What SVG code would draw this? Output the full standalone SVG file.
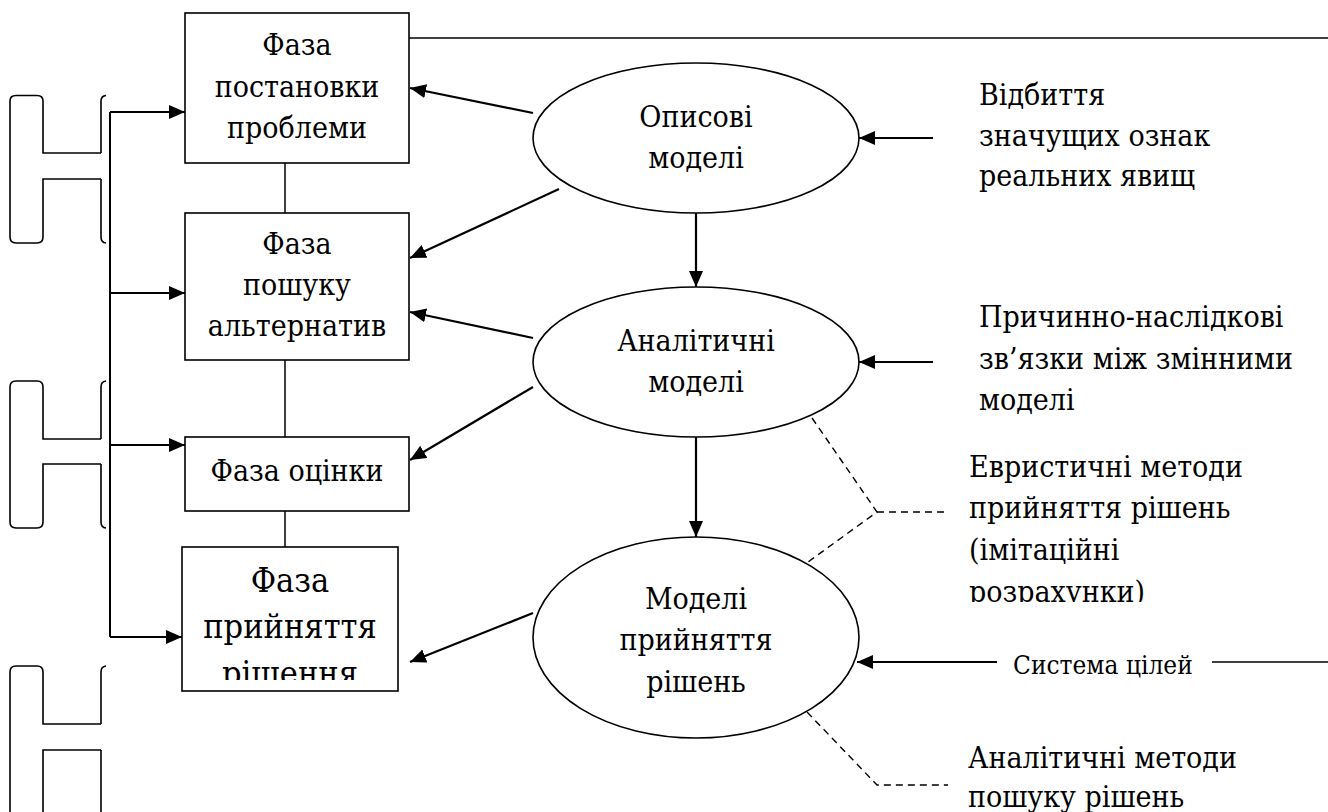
<svg xmlns="http://www.w3.org/2000/svg" width="1328" height="812" viewBox="0 0 1328 812">
<style>
.bx{fill:#fff;stroke:#000;stroke-width:1.6}
.el{fill:#fff;stroke:#000;stroke-width:1.6}
text{font-family:"DejaVu Serif Condensed","DejaVu Serif",serif;font-stretch:condensed;font-size:30px;fill:#000}
.tc{text-anchor:middle}
.big{font-size:34px}
.sm{font-size:26px}
.ar{stroke:#000;stroke-width:2.2;fill:none;marker-end:url(#ah)}
.ln{stroke:#000;stroke-width:1.5;fill:none}
.ds{stroke:#000;stroke-width:1.4;fill:none;stroke-dasharray:7 5}
.br{stroke:#000;stroke-width:1.6;fill:none}
</style>
<defs>
<marker id="ah" markerUnits="userSpaceOnUse" markerWidth="20" markerHeight="16" refX="16" refY="7" orient="auto">
<path d="M0,0 L16,7 L0,14 Z" fill="#000"/>
</marker>
<clipPath id="c4"><rect x="182" y="547" width="216" height="133"/></clipPath>
<clipPath id="ce"><rect x="940" y="440" width="388" height="162"/></clipPath>
</defs>
<rect width="1328" height="812" fill="#fff"/>

<g id="connectors">
<line class="ln" x1="409" y1="38" x2="1328" y2="38"/>
<line class="ln" x1="285" y1="163" x2="285" y2="213"/>
<line class="ln" x1="285" y1="360" x2="285" y2="437"/>
<line class="ln" x1="285" y1="511" x2="285" y2="547"/>
<line class="ln" x1="110" y1="112" x2="110" y2="637" style="stroke-width:2"/>
<line class="ar" x1="110" y1="112" x2="185" y2="112"/>
<line class="ar" x1="110" y1="293" x2="185" y2="293"/>
<line class="ar" x1="110" y1="445" x2="185" y2="445"/>
<line class="ar" x1="110" y1="637" x2="182" y2="637"/>
<line class="ar" x1="533" y1="113" x2="410" y2="88"/>
<line class="ar" x1="559" y1="189" x2="410" y2="258"/>
<line class="ar" x1="533" y1="338" x2="410" y2="312"/>
<line class="ar" x1="533" y1="387" x2="410" y2="460"/>
<line class="ar" x1="533" y1="613" x2="410" y2="662"/>
<line class="ar" x1="696" y1="213" x2="696" y2="287"/>
<line class="ar" x1="696" y1="437" x2="696" y2="537"/>
<line class="ar" x1="933" y1="138" x2="859" y2="138"/>
<line class="ar" x1="933" y1="362" x2="859" y2="362"/>
<line class="ar" x1="997" y1="662" x2="857" y2="662"/>
<line class="ln" x1="1212" y1="662" x2="1328" y2="662"/>
<polyline class="ds" points="812,418 877,512 808,562"/>
<line class="ds" x1="877" y1="512" x2="948" y2="512"/>
<polyline class="ds" points="807,712 877,785 948,785"/>
</g>

<g id="brackets">
<path class="br" d="M101,153 H43 V101 Q43,95.5 37,95.5 H16 Q10,95.5 10,101 V237 Q10,243 16,243 H37 Q43,243 43,237 V179 H101"/>
<path class="br" d="M106,95.5 Q101,96 101,101 V153 M101,179 V237 Q101,242.5 106,243"/>
<path class="br" d="M101,439 H43 V387 Q43,381 37,381 H16 Q10,381 10,387 V522 Q10,528 16,528 H37 Q43,528 43,522 V464 H101"/>
<path class="br" d="M106,381 Q101,381.5 101,387 V439 M101,464 V522 Q101,527.5 106,528"/>
<path class="br" d="M101,724 H43 V672 Q43,666 37,666 H16 Q10,666 10,672 V830 M43,830 V750 H101"/>
<path class="br" d="M106,666 Q101,666.5 101,672 V724 M101,750 V830"/>
</g>

<g id="box1">
<rect class="bx" x="185" y="13" width="224" height="150"/>
<text class="tc" x="297" y="55">Фаза</text>
<text class="tc" x="297" y="97">постановки</text>
<text class="tc" x="297" y="138">проблеми</text>
</g>
<g id="box2">
<rect class="bx" x="185" y="213" width="224" height="147"/>
<text class="tc" x="297" y="254">Фаза</text>
<text class="tc" x="297" y="295">пошуку</text>
<text class="tc" x="297" y="336">альтернатив</text>
</g>
<g id="box3">
<rect class="bx" x="185" y="437" width="224" height="74"/>
<text class="tc" x="297" y="481">Фаза оцінки</text>
</g>
<g id="box4">
<rect class="bx" x="182" y="547" width="216" height="144"/>
<g clip-path="url(#c4)">
<text class="tc big" x="290" y="592">Фаза</text>
<text class="tc big" x="290" y="638">прийняття</text>
<text class="tc big" x="290" y="685">рішення</text>
</g>
</g>

<g id="ellipse1">
<ellipse class="el" cx="696" cy="138" rx="163" ry="75"/>
<text class="tc" x="696" y="127">Описові</text>
<text class="tc" x="696" y="168">моделі</text>
</g>
<g id="ellipse2">
<ellipse class="el" cx="696" cy="362" rx="163" ry="75"/>
<text class="tc" x="696" y="351">Аналітичні</text>
<text class="tc" x="696" y="392">моделі</text>
</g>
<g id="ellipse3">
<ellipse class="el" cx="696" cy="637.5" rx="163" ry="100.5"/>
<text class="tc" x="696" y="609">Моделі</text>
<text class="tc" x="696" y="650">прийняття</text>
<text class="tc" x="696" y="692">рішень</text>
</g>

<g id="label-vidbyttia">
<text x="979" y="105">Відбиття</text>
<text x="979" y="146">значущих ознак</text>
<text x="979" y="186">реальних явищ</text>
</g>
<g id="label-prychynno">
<text x="979" y="327">Причинно-наслідкові</text>
<text x="979" y="369">зв’язки між змінними</text>
<text x="979" y="410">моделі</text>
</g>
<g id="label-evrystychni" clip-path="url(#ce)">
<text x="969" y="477">Евристичні методи</text>
<text x="969" y="518">прийняття рішень</text>
<text x="969" y="560">(імітаційні</text>
<text x="969" y="602">розрахунки)</text>
</g>
<g id="label-systema">
<text class="sm" x="1013" y="674">Система цілей</text>
</g>
<g id="label-analitychni">
<text x="968" y="768">Аналітичні методи</text>
<text x="968" y="807">пошуку рішень</text>
</g>
</svg>
